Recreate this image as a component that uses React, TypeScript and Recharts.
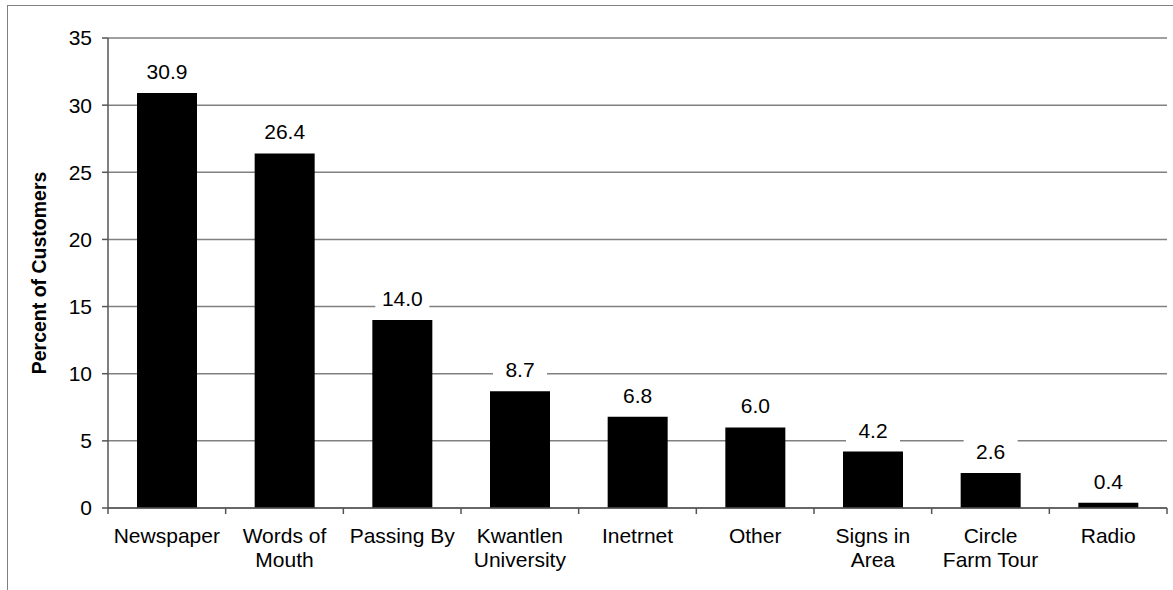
import React from "react";
import { BarChart, Bar, XAxis, YAxis, CartesianGrid, LabelList } from "recharts";

const CATEGORIES = [
  "Newspaper",
  "Words of\nMouth",
  "Passing By",
  "Kwantlen\nUniversity",
  "Inetrnet",
  "Other",
  "Signs in\nArea",
  "Circle\nFarm Tour",
  "Radio",
];
const PERCENTS = [30.9, 26.4, 14.0, 8.7, 6.8, 6.0, 4.2, 2.6, 0.4];
const Y_TICKS = [0, 5, 10, 15, 20, 25, 30, 35];

const data = CATEGORIES.map((name, i) => ({ name, pct: PERCENTS[i] }));

const W = 1173;
const H = 590;
const M_RIGHT = 6;
const M_TOP = 38;
const Y_W = 108;
const X_H = 82;
const FONT = "'Liberation Sans', Arial, sans-serif";
const FS = 21;
const BAND = (W - M_RIGHT - Y_W) / CATEGORIES.length;

function CatTick(props: any) {
  const { x, y, payload, index } = props;
  const lines = String(payload.value).split("\n");
  const axisY = y - 8;
  return (
    <g>
      <line x1={x - BAND / 2} x2={x - BAND / 2} y1={axisY} y2={axisY + 6} stroke="#555" strokeWidth={1.5} />
      {index === CATEGORIES.length - 1 && (
        <line x1={x + BAND / 2} x2={x + BAND / 2} y1={axisY} y2={axisY + 6} stroke="#555" strokeWidth={1.5} />
      )}
      <text x={x} y={axisY + 35} textAnchor="middle" fontSize={FS} fontFamily={FONT} fill="#000">
        {lines.map((l, i) => (
          <tspan key={i} x={x} dy={i === 0 ? 0 : 24}>{l}</tspan>
        ))}
      </text>
    </g>
  );
}

function ValueLabel(props: any) {
  const { x, y, width, value } = props;
  const cx = x + width / 2;
  return (
    <g>
      <rect x={cx - 27} y={y - 35} width={54} height={27} fill="#fff" />
      <text x={cx} y={y - 14} textAnchor="middle" fontSize={FS} fontFamily={FONT} fill="#000">
        {Number(value).toFixed(1)}
      </text>
    </g>
  );
}

export default function App() {
  return (
    <div style={{ position: "fixed", left: 0, top: 0, width: W, height: H, overflow: "hidden", background: "#fff" }}>
      <div
        style={{
          position: "absolute", left: 7, top: 5, width: 1400, height: 800,
          borderLeft: "1.5px solid #808080", borderTop: "1.5px solid #808080",
        }}
      />
      <div style={{ position: "absolute", left: 0, top: 0 }}>
        <BarChart width={W} height={H} data={data} margin={{ top: M_TOP, right: M_RIGHT, bottom: 0, left: 0 }} barSize={60}>
          <CartesianGrid horizontal vertical={false} stroke="#808080" strokeWidth={1.5} />
          <XAxis
            dataKey="name"
            height={X_H}
            interval={0}
            tickLine={false}
            tick={<CatTick />}
            axisLine={{ stroke: "#555", strokeWidth: 1.5 }}
          />
          <YAxis
            width={Y_W}
            domain={[0, 35]}
            ticks={Y_TICKS}
            interval={0}
            tickSize={6}
            tickMargin={10}
            tick={{ fontSize: FS, fontFamily: FONT, fill: "#000" }}
            tickLine={{ stroke: "#555", strokeWidth: 1.5 }}
            axisLine={{ stroke: "#555", strokeWidth: 1.5 }}
            label={(p: any) => (
              <text
                x={46}
                y={273}
                transform="rotate(-90 46 273)"
                textAnchor="middle"
                fontSize={19.5}
                fontWeight="bold"
                fontFamily={FONT}
                fill="#000"
              >
                Percent of Customers
              </text>
            )}
          />
          <YAxis
            yAxisId="r"
            orientation="right"
            width={0}
            tick={false}
            tickLine={false}
            axisLine={{ stroke: "#666", strokeWidth: 1.5 }}
          />
          <Bar dataKey="pct" fill="#000" isAnimationActive={false}>
            <LabelList dataKey="pct" content={<ValueLabel />} />
          </Bar>
        </BarChart>
      </div>
    </div>
  );
}
